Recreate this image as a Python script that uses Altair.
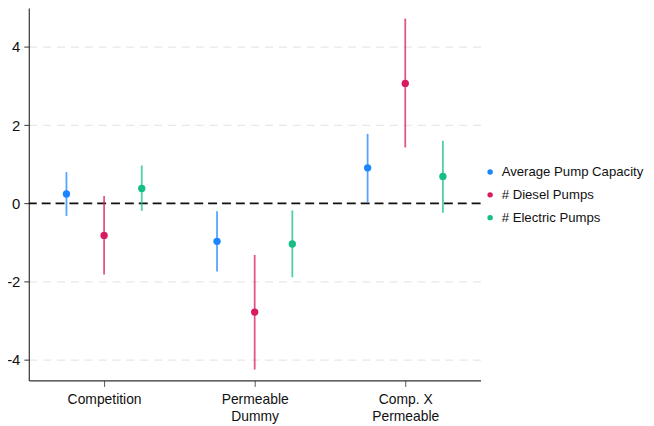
import altair as alt
import pandas as pd

categories = ["Competition", "Permeable Dummy", "Comp. X Permeable"]
cat_pos = [1, 2, 3]
series = ["Average Pump Capacity", "# Diesel Pumps", "# Electric Pumps"]
offsets = [-0.25, 0.0, 0.25]
colors = ["#1a85ff", "#d81b60", "#14bf85"]

# estimates and confidence bounds per category, per series
est = {
    "Average Pump Capacity": [0.24, -0.97, 0.91],
    "# Diesel Pumps": [-0.82, -2.78, 3.07],
    "# Electric Pumps": [0.38, -1.04, 0.69],
}
lo = {
    "Average Pump Capacity": [-0.32, -1.74, 0.03],
    "# Diesel Pumps": [-1.82, -4.25, 1.43],
    "# Electric Pumps": [-0.19, -1.89, -0.24],
}
hi = {
    "Average Pump Capacity": [0.80, -0.20, 1.78],
    "# Diesel Pumps": [0.19, -1.32, 4.73],
    "# Electric Pumps": [0.97, -0.18, 1.60],
}

rows = []
for s, off in zip(series, offsets):
    for c, p, e, l, h in zip(categories, cat_pos, est[s], lo[s], hi[s]):
        rows.append({"series": s, "cat": c, "x": p + off, "est": e, "lo": l, "hi": h})
df = pd.DataFrame(rows)

color_scale = alt.Scale(domain=series, range=colors)
xscale = alt.Scale(domain=[0.5, 3.5], nice=False, zero=False)
yscale = alt.Scale(domain=[-4.53, 5.0], nice=False, zero=False)

label_expr = ("datum.value == 1 ? 'Competition' : datum.value == 2 ? ['Permeable', 'Dummy'] : "
              "datum.value == 3 ? ['Comp. X', 'Permeable'] : ''")

x_axis = alt.Axis(values=cat_pos, labelExpr=label_expr, title=None, grid=False,
                  labelFontSize=14, labelColor="#111111", labelFont="Liberation Sans",
                  tickColor="#555555", tickSize=6, domainColor="#333333",
                  labelPadding=6, labelLineHeight=17)
y_axis = alt.Axis(values=[-4, -2, 0, 2, 4], title=None, grid=True,
                  gridDash=[8, 6], gridColor="#e8e8e8", gridWidth=1.2,
                  labelExpr="replace(datum.label, '\u2212', '-')",
                  labelFontSize=15, labelColor="#111111", labelFont="Liberation Sans",
                  tickColor="#333333", tickSize=5, domainColor="#333333", labelPadding=4)

legend = alt.Legend(title=None, orient="none", legendX=459, legendY=159,
                    symbolType="circle", symbolSize=30, labelFontSize=13.3,
                    labelFont="Liberation Sans", labelColor="#111111", labelOffset=5,
                    rowPadding=9, symbolStrokeWidth=0, symbolOpacity=1, labelLimit=300)

base = alt.Chart(df)

bars = base.mark_rule(strokeWidth=1.8, opacity=0.75).encode(
    x=alt.X("x:Q", scale=xscale, axis=x_axis),
    y=alt.Y("lo:Q", scale=yscale, axis=y_axis),
    y2="hi:Q",
    color=alt.Color("series:N", scale=color_scale, sort=series, legend=legend),
)

points = base.mark_point(filled=True, size=55, opacity=1).encode(
    x=alt.X("x:Q", scale=xscale),
    y=alt.Y("est:Q", scale=yscale),
    color=alt.Color("series:N", scale=color_scale, sort=series, legend=legend),
)

zero_df = pd.DataFrame({"y": [0]})
zero = alt.Chart(zero_df).mark_rule(color="#111111", strokeWidth=1.8, strokeDash=[9, 5]).encode(
    y=alt.Y("y:Q", scale=yscale)
)

chart = alt.layer(zero, bars, points).properties(
    width=456, height=376,
    autosize=alt.AutoSizeParams(type="none"),
    padding={"left": 21, "top": -2, "right": 167, "bottom": 42},
).configure_view(stroke=None).configure_axisX(domainWidth=1.2).configure_axisY(domainWidth=1.2)

chart.save("out.html", embed_options={"renderer": "svg", "actions": False})
